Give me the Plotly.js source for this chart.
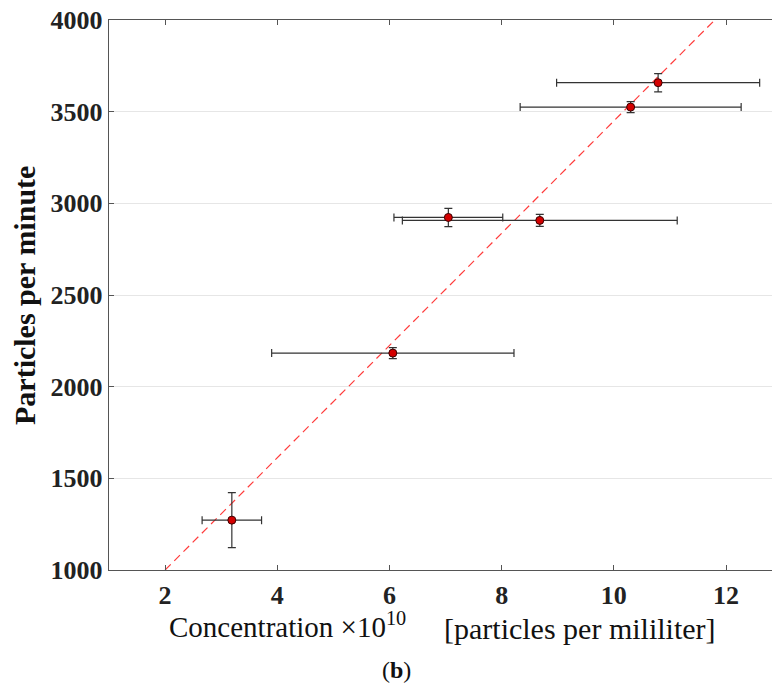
<!DOCTYPE html>
<html>
<head>
<meta charset="utf-8">
<script src="https://cdn.plot.ly/plotly-3.0.1.min.js"></script>
<style>html,body{margin:0;padding:0;background:#fff;}#chart{width:772px;height:684px;}</style>
</head>
<body>
<div id="chart"></div>
<script>
// Measured points
const concentration = [3.19, 6.06, 7.05, 8.68, 10.30, 10.79];
const particlesPerMinute = [1272, 2183, 2923, 2907, 3525, 3658];
const concentrationErr = [0.53, 2.16, 0.97, 2.45, 1.97, 1.81];
const particlesErr = [150, 30, 50, 33, 30, 50];
// Linear fit
const fitX = [2, 11.8];
const fitY = [1000, 4000];
// Ticks
const xTicks = [2, 4, 6, 8, 10, 12];
const yTicks = [1000, 1500, 2000, 2500, 3000, 3500, 4000];
// Texts
const xTitleA = 'Concentration ×10<sup>10</sup>';
const xTitleB = '[particles per mililiter]';
const yTitle = '<b>Particles per minute</b>';
const panelLabel = '(<b>b</b>)';

const serif = "Liberation Serif, Times New Roman, serif";

const traces = [
  {
    x: fitX, y: fitY, type: 'scatter', mode: 'lines',
    line: {color: '#ff3b3b', width: 1.2, dash: '8px,5px'},
    hoverinfo: 'skip', showlegend: false
  },
  {
    x: concentration, y: particlesPerMinute, type: 'scatter', mode: 'markers',
    marker: {color: '#d40000', size: 8, line: {color: '#3a0000', width: 1}},
    error_x: {type: 'data', array: concentrationErr, visible: true, color: '#333333', thickness: 1.2, width: 4},
    error_y: {type: 'data', array: particlesErr, visible: true, color: '#333333', thickness: 1.2, width: 4},
    showlegend: false
  }
];

function py(px) { return (570 - px) / 550; }   // pixel row -> paper y
function px_(p) { return (p - 109) / 663; }    // pixel column -> paper x

const layout = {
  width: 772, height: 684,
  margin: {l: 109, r: 0, t: 20, b: 114},
  paper_bgcolor: '#ffffff', plot_bgcolor: '#ffffff',
  xaxis: {
    range: [1, 12.82],
    tickvals: xTicks,
    ticks: 'inside', ticklen: 5, tickcolor: '#555',
    showline: true, linecolor: '#555', linewidth: 1.2, mirror: 'ticks',
    showgrid: false, zeroline: false,
    ticklabelstandoff: 2,
    tickfont: {family: serif, size: 26, color: '#222', weight: 'bold'}
  },
  yaxis: {
    range: [1000, 4000],
    tickvals: yTicks,
    ticks: 'inside', ticklen: 5, tickcolor: '#555',
    showline: true, linecolor: '#555', linewidth: 1.2, mirror: false,
    showgrid: true, gridcolor: '#e6e6e6', gridwidth: 1, zeroline: false,
    tickfont: {family: serif, size: 26, color: '#222', weight: 'bold'}
  },
  annotations: [
    {
      text: xTitleA, xref: 'paper', yref: 'paper', x: px_(287), y: py(625),
      xanchor: 'center', yanchor: 'middle', showarrow: false,
      font: {family: serif, size: 29, color: '#111'}
    },
    {
      text: xTitleB, xref: 'paper', yref: 'paper', x: px_(580), y: py(628),
      xanchor: 'center', yanchor: 'middle', showarrow: false,
      font: {family: serif, size: 30, color: '#111'}
    },
    {
      text: yTitle, xref: 'paper', yref: 'paper', x: px_(24), y: py(296), textangle: -90,
      xanchor: 'center', yanchor: 'middle', showarrow: false,
      font: {family: serif, size: 30, color: '#111'}
    },
    {
      text: panelLabel, xref: 'paper', yref: 'paper', x: px_(396), y: py(670),
      xanchor: 'center', yanchor: 'middle', showarrow: false,
      font: {family: serif, size: 24, color: '#111'}
    }
  ]
};

Plotly.newPlot('chart', traces, layout, {staticPlot: true, displayModeBar: false});
</script>
</body>
</html>
